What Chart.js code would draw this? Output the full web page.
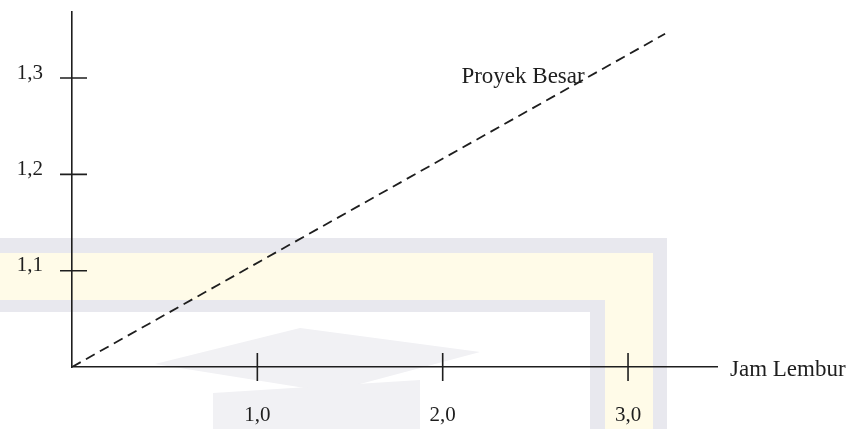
<!DOCTYPE html>
<html>
<head>
<meta charset="utf-8">
<script src="https://cdn.jsdelivr.net/npm/chart.js@4.4.1/dist/chart.umd.min.js"></script>
<style>
  body { margin: 0; background: #fff; }
  canvas { display: block; }
</style>
</head>
<body>
<canvas id="lemburChart" width="859" height="429"></canvas>
<script>
// data
const lineX = [0, 3.2];
const lineY = [1.0, 1.346];
const xTicks = [1, 2, 3];
const xTickLabels = ['1,0', '2,0', '3,0'];
const yTicks = [1.1, 1.2, 1.3];
const yTickLabels = ['1,1', '1,2', '1,3'];
const seriesLabel = 'Proyek Besar';
const seriesLabelAt = [2.82, 1.30];
const xAxisTitle = 'Jam Lembur';

const ink = '#1e1e1e';
const font = { family: 'Liberation Serif', size: 21 };
const noteFont = '23px Liberation Serif';

// faint watermark frame behind the chart (decoration only)
const watermark = {
    id: 'watermark',
    beforeDraw(chart) {
        const c = chart.ctx;
        c.save();
        c.fillStyle = '#e8e8ee';
        c.fillRect(0, 238, 667, 15);
        c.fillRect(653, 238, 14, 191);
        c.fillStyle = '#fffbe8';
        c.fillRect(0, 253, 653, 47);
        c.fillRect(605, 253, 48, 176);
        c.fillStyle = '#e8e8ee';
        c.fillRect(0, 300, 605, 12);
        c.fillRect(590, 300, 15, 129);
        c.fillStyle = '#f1f1f4';
        c.beginPath();
        c.moveTo(155, 364);
        c.lineTo(300, 328);
        c.lineTo(480, 352);
        c.lineTo(330, 392);
        c.closePath();
        c.fill();
        c.beginPath();
        c.moveTo(213, 393);
        c.lineTo(420, 380);
        c.lineTo(420, 429);
        c.lineTo(213, 429);
        c.closePath();
        c.fill();
        c.restore();
    }
};

// tick marks crossing the axes, plus the two text labels
const crossTicks = {
    id: 'crossTicks',
    afterDraw(chart) {
        const c = chart.ctx;
        const xs = chart.scales.x, ys = chart.scales.y;
        const area = chart.chartArea;
        c.save();
        c.strokeStyle = ink;
        c.lineWidth = 1.6;
        c.beginPath();
        xTicks.forEach(v => {
            const px = xs.getPixelForValue(v);
            c.moveTo(px, area.bottom - 14);
            c.lineTo(px, area.bottom + 14);
        });
        yTicks.forEach(v => {
            const py = ys.getPixelForValue(v);
            c.moveTo(area.left - 12, py);
            c.lineTo(area.left + 15, py);
        });
        c.stroke();

        c.fillStyle = ink;
        c.font = noteFont;
        c.textBaseline = 'middle';
        c.textAlign = 'left';
        c.fillText(xAxisTitle, area.right + 13, area.bottom + 3);
        c.textAlign = 'right';
        c.fillText(seriesLabel, xs.getPixelForValue(seriesLabelAt[0]) - 10, ys.getPixelForValue(seriesLabelAt[1]) - 1);
        c.restore();
    }
};

new Chart(document.getElementById('lemburChart').getContext('2d'), {
    type: 'line',
    data: {
        datasets: [{
            label: seriesLabel,
            data: lineX.map((x, i) => ({ x: x, y: lineY[i] })),
            borderColor: ink,
            borderWidth: 1.8,
            borderDash: [10, 6],
            pointRadius: 0,
            fill: false,
            tension: 0
        }]
    },
    options: {
        responsive: false,
        animation: false,
        devicePixelRatio: 1,
        layout: { padding: { left: 0, right: 142, top: 12, bottom: 0 } },
        plugins: { legend: { display: false }, tooltip: { enabled: false } },
        scales: {
            x: {
                type: 'linear',
                min: 0,
                max: 3.48,
                afterFit: s => { s.height = 62; s.paddingLeft = 0; s.paddingRight = 0; },
                afterBuildTicks: s => { s.ticks = xTicks.map(v => ({ value: v })); },
                grid: { display: false, drawTicks: false },
                border: { display: true, color: ink, width: 1.6 },
                ticks: {
                    color: ink,
                    font: font,
                    padding: 36,
                    maxRotation: 0,
                    callback: (v) => xTickLabels[xTicks.indexOf(v)]
                }
            },
            y: {
                type: 'linear',
                min: 1.0,
                max: 1.3686,
                afterFit: s => { s.width = 72; s.paddingTop = 0; s.paddingBottom = 0; },
                afterBuildTicks: s => { s.ticks = yTicks.map(v => ({ value: v })); },
                grid: { display: false, drawTicks: false },
                border: { display: true, color: ink, width: 1.6 },
                ticks: {
                    color: ink,
                    font: font,
                    padding: 29,
                    labelOffset: -5,
                    callback: (v) => yTickLabels[yTicks.indexOf(v)]
                }
            }
        }
    },
    plugins: [watermark, crossTicks]
});
</script>
</body>
</html>
